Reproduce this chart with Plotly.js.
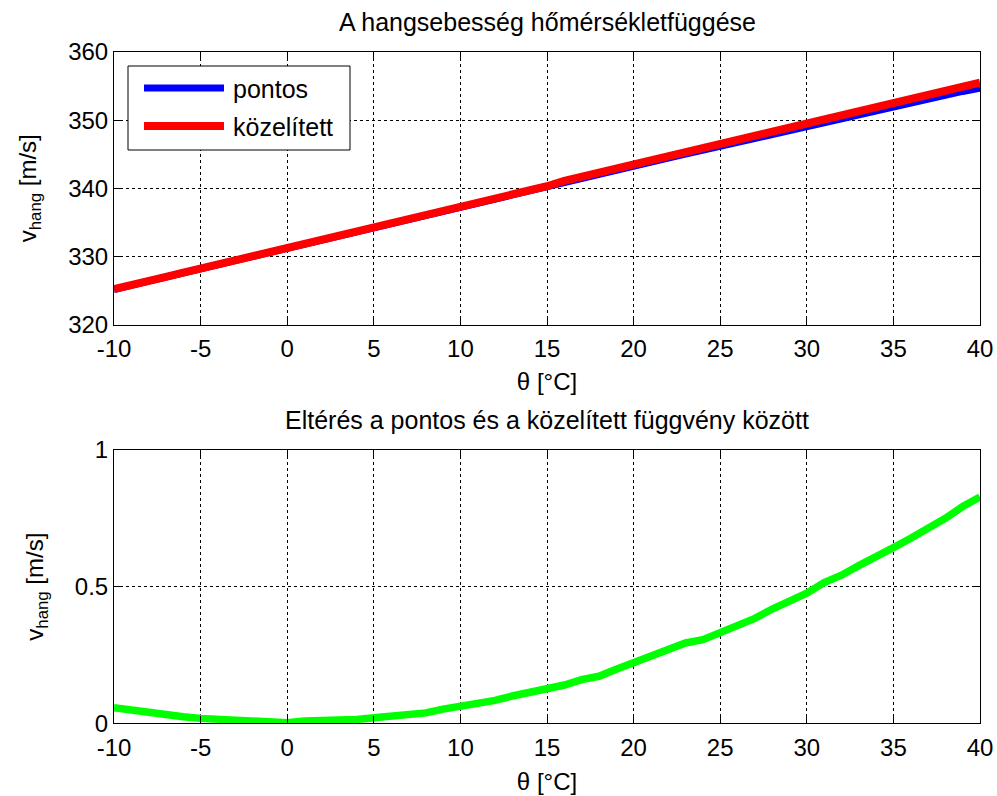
<!DOCTYPE html>
<html>
<head>
<meta charset="utf-8">
<script src="https://cdn.plot.ly/plotly-3.0.1.min.js"></script>
<style>
  html, body { margin: 0; padding: 0; background: #fff; }
  #chart { width: 997px; height: 796px; }
</style>
</head>
<body>
<div id="chart"></div>
<script>
// Temperature in °C
const theta = [-10,-9,-8,-7,-6,-5,-4,-3,-2,-1,0,1,2,3,4,5,6,7,8,9,10,
  11,12,13,14,15,16,17,18,19,20,21,22,23,24,25,26,27,28,29,30,
  31,32,33,34,35,36,37,38,39,40];

// Speed of sound, exact values [m/s]
const pontos = [325.14,325.85,326.36,326.97,327.58,328.18,328.78,329.39,329.99,330.59,
  331.20,331.79,332.29,333.09,333.69,334.28,334.87,335.47,336.06,336.65,
  337.24,337.83,338.42,339.00,339.59,340.18,340.96,341.54,342.13,342.70,
  343.28,343.85,344.43,345.01,345.59,346.17,346.74,347.32,347.88,348.65,
  349.22,349.79,350.36,350.92,351.49,352.06,352.62,353.19,353.75,354.21,354.67];

// Speed of sound, linear approximation [m/s]
const kozelitett = [325.2,325.9,326.4,327.0,327.6,328.2,328.8,329.4,330.0,330.6,
  331.2,331.8,332.3,333.1,333.7,334.3,334.9,335.5,336.1,336.7,
  337.3,337.9,338.5,339.1,339.7,340.3,341.1,341.7,342.3,342.9,
  343.5,344.1,344.7,345.3,345.9,346.5,347.1,347.7,348.3,349.1,
  349.7,350.3,350.9,351.5,352.1,352.7,353.3,353.9,354.5,355.0,355.5];

// Difference between the approximation and the exact values [m/s]
const elteres = [0.057,0.048,0.037,0.030,0.024,0.018,0.016,0.009,0.008,0.008,
  0.002,0.008,0.008,0.008,0.014,0.020,0.026,0.032,0.038,0.052,
  0.062,0.074,0.084,0.100,0.112,0.124,0.140,0.160,0.172,0.198,
  0.222,0.247,0.272,0.294,0.306,0.331,0.360,0.384,0.418,0.448,
  0.476,0.515,0.542,0.577,0.607,0.643,0.677,0.710,0.750,0.793,0.828];

const xTicks = [-10,-5,0,5,10,15,20,25,30,35,40];
const xTickText = ['-10','-5','0','5','10','15','20','25','30','35','40'];
const yTicksTop = [320,330,340,350,360];
const yTicksBottom = [0,0.5,1];
const yTickTextBottom = ['0','0.5','1'];

const seriesNames = ['pontos','közelített'];
const titleTop = 'A hangsebesség hőmérsékletfüggése';
const titleBottom = 'Eltérés a pontos és a közelített függvény között';
const xLabel = 'θ [°C]';
const yLabel = 'v<sub>hang</sub> [m/s]';

const W = 997, H = 796;
const px = v => v / W;          // horizontal pixel -> paper
const py = v => (H - v) / H;    // vertical pixel (from top) -> paper

const FONT = 'Liberation Sans, Arial, sans-serif';
const BLUE = '#0000ff', RED = '#ff0000', GREEN = '#00ff00';

const traces = [
  { x: theta, y: pontos, name: seriesNames[0], type: 'scatter', mode: 'lines',
    line: { color: BLUE, width: 7 }, xaxis: 'x', yaxis: 'y', showlegend: false },
  { x: theta, y: kozelitett, name: seriesNames[1], type: 'scatter', mode: 'lines',
    line: { color: RED, width: 8 }, xaxis: 'x', yaxis: 'y', showlegend: false },
  { x: theta, y: elteres, name: 'eltérés', type: 'scatter', mode: 'lines',
    line: { color: GREEN, width: 7.5 }, xaxis: 'x2', yaxis: 'y2', showlegend: false }
];

const axisCommon = {
  showline: true, linecolor: '#000', linewidth: 1, mirror: 'ticks',
  ticks: 'inside', ticklen: 7, tickcolor: '#000', tickwidth: 1,
  showgrid: true, gridcolor: '#000', gridwidth: 1, griddash: 'dot',
  zeroline: false, tickfont: { family: FONT, size: 24, color: '#000' },
  fixedrange: true
};

const xDomain = [px(114), px(980)];

const layout = {
  width: W, height: H,
  margin: { l: 0, r: 0, t: 0, b: 0 },
  paper_bgcolor: '#fff', plot_bgcolor: '#fff',
  showlegend: false,
  font: { family: FONT, color: '#000' },
  xaxis: Object.assign({}, axisCommon, {
    domain: xDomain, anchor: 'y', range: [-10, 40], tickvals: xTicks, ticktext: xTickText,
    ticklabelstandoff: 3,
    title: { text: xLabel, font: { family: FONT, size: 24 }, standoff: 11 }
  }),
  yaxis: Object.assign({}, axisCommon, {
    domain: [py(324.5), py(52)], anchor: 'x', range: [320, 360], tickvals: yTicksTop,
    title: { text: yLabel, font: { family: FONT, size: 24 }, standoff: 24 }
  }),
  xaxis2: Object.assign({}, axisCommon, {
    domain: xDomain, anchor: 'y2', range: [-10, 40], tickvals: xTicks, ticktext: xTickText,
    ticklabelstandoff: 3,
    title: { text: xLabel, font: { family: FONT, size: 24 }, standoff: 13 }
  }),
  yaxis2: Object.assign({}, axisCommon, {
    domain: [py(723.3), py(450)], anchor: 'x2', range: [0, 1],
    tickvals: yTicksBottom, ticktext: yTickTextBottom,
    title: { text: yLabel, font: { family: FONT, size: 24 }, standoff: 24 }
  }),
  annotations: [
    { text: titleTop, xref: 'paper', yref: 'paper', x: px(547), y: py(22),
      xanchor: 'center', yanchor: 'middle', showarrow: false,
      font: { family: FONT, size: 25, color: '#000' } },
    { text: titleBottom, xref: 'paper', yref: 'paper', x: px(547), y: py(420),
      xanchor: 'center', yanchor: 'middle', showarrow: false,
      font: { family: FONT, size: 25, color: '#000' } },
    // legend labels
    { text: seriesNames[0], xref: 'paper', yref: 'paper', x: px(231), y: py(89),
      xanchor: 'left', yanchor: 'middle', showarrow: false,
      font: { family: FONT, size: 25, color: '#000' } },
    { text: seriesNames[1], xref: 'paper', yref: 'paper', x: px(231), y: py(127),
      xanchor: 'left', yanchor: 'middle', showarrow: false,
      font: { family: FONT, size: 25, color: '#000' } }
  ],
  shapes: [
    // legend box
    { type: 'rect', xref: 'paper', yref: 'paper', x0: px(128), x1: px(350), y0: py(150), y1: py(66),
      line: { color: '#000', width: 1 }, fillcolor: '#fff', layer: 'above' },
    // legend line samples
    { type: 'line', xref: 'paper', yref: 'paper', x0: px(144), x1: px(224), y0: py(88), y1: py(88),
      line: { color: BLUE, width: 7 }, layer: 'above' },
    { type: 'line', xref: 'paper', yref: 'paper', x0: px(144), x1: px(224), y0: py(126), y1: py(126),
      line: { color: RED, width: 8 }, layer: 'above' }
  ]
};

Plotly.newPlot('chart', traces, layout, { staticPlot: true, displayModeBar: false });
</script>
</body>
</html>
